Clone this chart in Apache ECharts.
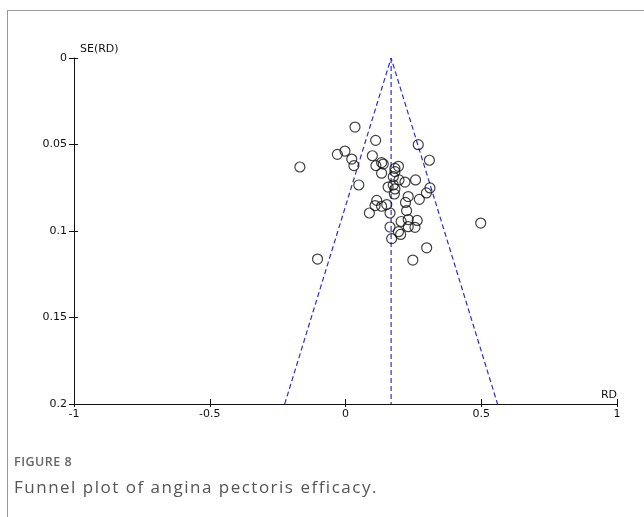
<!DOCTYPE html>
<html>
<head>
<meta charset="utf-8">
<script src="https://cdn.jsdelivr.net/npm/echarts@6/dist/echarts.min.js"></script>
<style>
  html, body { margin: 0; padding: 0; background: #fff; }
  #frame { position: absolute; left: 7px; top: 10px; width: 637px; height: 507px;
           border-top: 1px solid #9a9a9a; border-left: 1px solid #9a9a9a; box-sizing: border-box; }
  #chart { position: absolute; left: 0; top: 0; width: 644px; height: 517px; }
  .caption { position: absolute; left: 14px; font-family: "Open Sans", sans-serif; white-space: nowrap; }
  #figLabel { top: 454px; font-size: 12.5px; font-weight: 600; color: #666; letter-spacing: 0.5px; line-height: 16px; }
  #figText { top: 477px; font-size: 17px; color: #555; letter-spacing: 1.5px; line-height: 20px; }
</style>
</head>
<body>
<div id="frame"></div>
<div id="chart"></div>
<div class="caption" id="figLabel">FIGURE 8</div>
<div class="caption" id="figText">Funnel plot of angina pectoris efficacy.</div>
<script>
// Study effects (risk difference) and their standard errors
const studyRD = [
  -0.168, -0.103, -0.030, -0.002, 0.023, 0.031, 0.035, 0.049, 0.088, 0.099,
  0.111, 0.112, 0.115, 0.109, 0.133, 0.152, 0.133, 0.139, 0.133, 0.157,
  0.176, 0.182, 0.180, 0.164, 0.164, 0.170, 0.182, 0.195, 0.182, 0.176,
  0.219, 0.258, 0.268, 0.309, 0.311, 0.298, 0.272, 0.231, 0.221, 0.225,
  0.205, 0.231, 0.264, 0.231, 0.256, 0.195, 0.203, 0.299, 0.248, 0.498,
  0.197
];
const studySE = [
  0.0630, 0.1162, 0.0557, 0.0538, 0.0584, 0.0622, 0.0399, 0.0734, 0.0896, 0.0565,
  0.0476, 0.0622, 0.0823, 0.0853, 0.0857, 0.0847, 0.0605, 0.0613, 0.0666, 0.0746,
  0.0734, 0.0757, 0.0786, 0.0896, 0.0977, 0.1044, 0.0638, 0.0626, 0.0657, 0.0686,
  0.0717, 0.0705, 0.0501, 0.0591, 0.0751, 0.0780, 0.0817, 0.0801, 0.0835, 0.0882,
  0.0945, 0.0934, 0.0939, 0.0975, 0.0979, 0.1004, 0.1020, 0.1097, 0.1168, 0.0954,
  0.0705
];

// Pooled estimate line and 95% pseudo-confidence limits
const pooledX = [0.168, 0.168];
const pooledY = [0, 0.2];
const funnelX = [-0.224, 0.168, 0.560];
const funnelY = [0.2, 0, 0.2];

const xTicks = [-1, -0.5, 0, 0.5, 1];
const yTicks = [0, 0.05, 0.1, 0.15, 0.2];

const axisFont = { fontFamily: 'DejaVu Sans', fontSize: 11, color: '#111' };
const zip = (a, b) => a.map((v, i) => [v, b[i]]);
const dashBlue = { color: '#2c2cd8', width: 1.2, type: [5, 3] };

const chart = echarts.init(document.getElementById('chart'));
chart.setOption({
  animation: false,
  backgroundColor: 'transparent',
  grid: { left: 74, right: 27, top: 58, bottom: 113 },
  xAxis: [
    {
      type: 'value', min: xTicks[0], max: xTicks[xTicks.length - 1], interval: 0.5,
      position: 'bottom',
      name: 'RD', nameLocation: 'end', nameGap: 0,
      nameTextStyle: Object.assign({ align: 'right', verticalAlign: 'bottom', padding: [0, 0, 3, 0] }, axisFont),
      axisLine: { onZero: false, lineStyle: { color: '#111', width: 1 } },
      axisTick: { inside: false, length: 3, lineStyle: { color: '#111' } },
      axisLabel: Object.assign({ margin: 5 }, axisFont),
      splitLine: { show: false }
    },
    {
      type: 'value', min: xTicks[0], max: xTicks[xTicks.length - 1], interval: 0.5,
      position: 'bottom',
      axisLine: { show: false, onZero: false },
      axisTick: { inside: true, length: 5, lineStyle: { color: '#111' } },
      axisLabel: { show: false },
      splitLine: { show: false }
    }
  ],
  yAxis: [
    {
      type: 'value', min: yTicks[0], max: yTicks[yTicks.length - 1], interval: 0.05,
      inverse: true, position: 'left',
      name: 'SE(RD)', nameLocation: 'start', nameGap: 3,
      nameTextStyle: Object.assign({ align: 'left', verticalAlign: 'bottom', padding: [0, 0, 0, 6] }, axisFont),
      axisLine: { onZero: false, lineStyle: { color: '#111', width: 1 } },
      axisTick: { inside: false, length: 5, lineStyle: { color: '#111' } },
      axisLabel: Object.assign({ margin: 7 }, axisFont),
      splitLine: { show: false }
    },
    {
      type: 'value', min: yTicks[0], max: yTicks[yTicks.length - 1], interval: 0.05,
      inverse: true, position: 'left',
      axisLine: { show: false, onZero: false },
      axisTick: { inside: true, length: 4, lineStyle: { color: '#111' } },
      axisLabel: { show: false },
      splitLine: { show: false }
    }
  ],
  series: [
    {
      type: 'line', data: zip(funnelX, funnelY), symbol: 'none', silent: true,
      lineStyle: dashBlue, z: 1
    },
    {
      type: 'line', data: zip(pooledX, pooledY), symbol: 'none', silent: true,
      lineStyle: dashBlue, z: 1
    },
    {
      type: 'scatter', data: zip(studyRD, studySE), symbol: 'circle', symbolSize: 10,
      itemStyle: { color: 'rgba(0,0,0,0)', borderColor: '#111', borderWidth: 1.2 }, z: 3
    }
  ]
});
</script>
</body>
</html>
